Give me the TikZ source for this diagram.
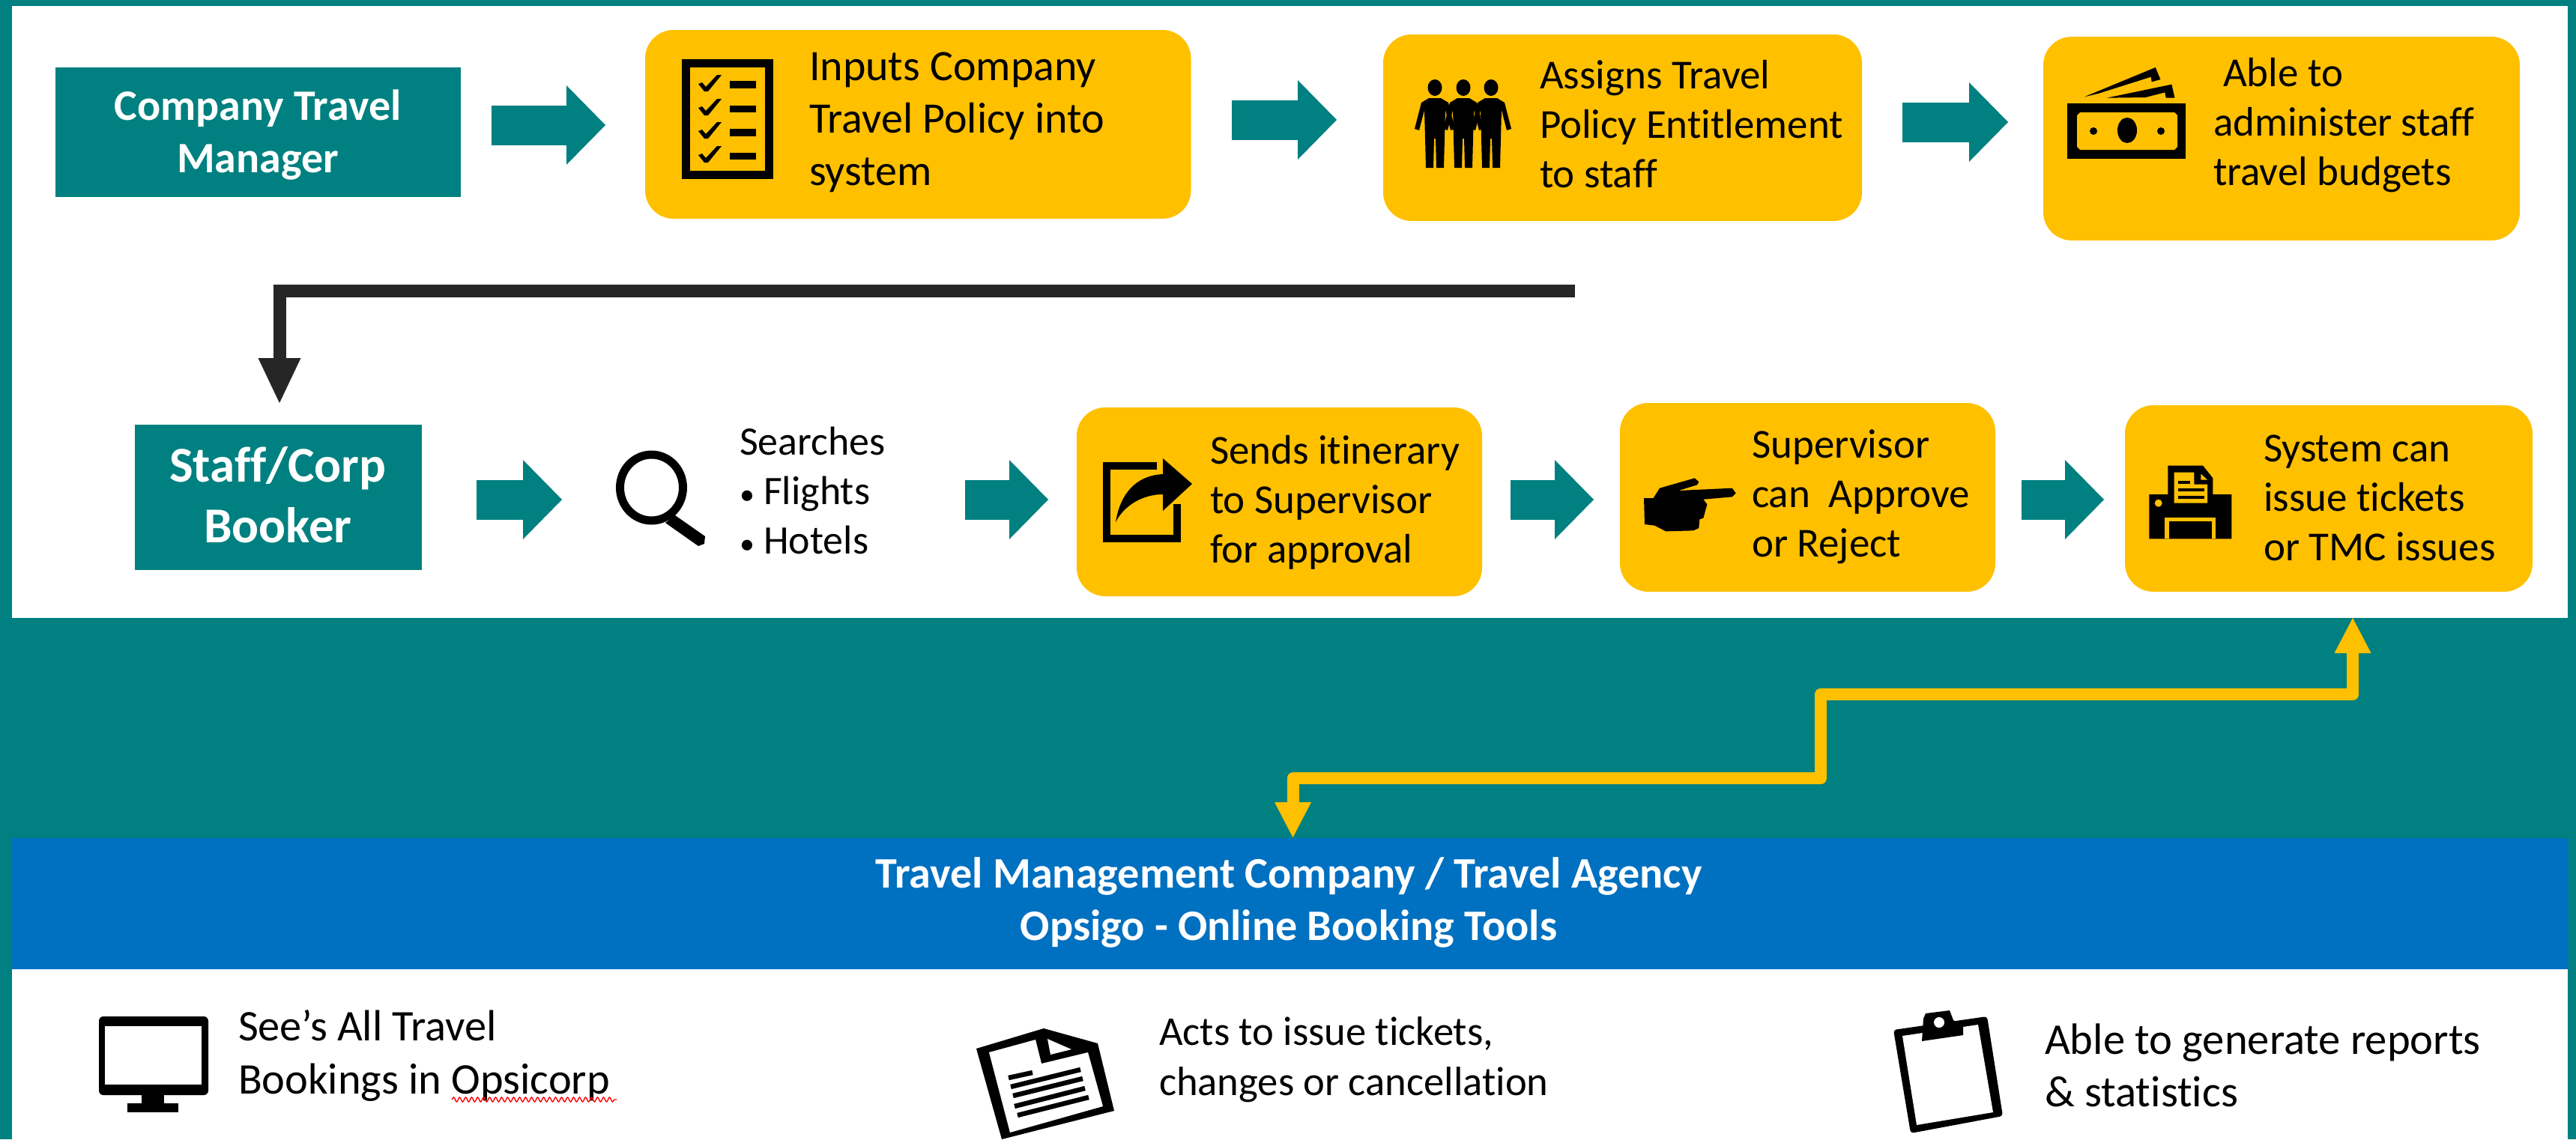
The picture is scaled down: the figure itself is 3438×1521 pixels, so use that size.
\documentclass[tikz,border=0pt]{standalone}
\usepackage{fontspec}
\setmainfont[Ligatures=NoCommon]{Carlito}
\usetikzlibrary{arrows.meta,decorations.pathmorphing}
\definecolor{tealc}{HTML}{008080}
\definecolor{goldc}{HTML}{FFC000}
\definecolor{bluec}{HTML}{0070C0}
\definecolor{darkc}{HTML}{262626}
\tikzset{
  tealbox/.style={fill=tealc,rectangle,inner sep=0pt,outer sep=0pt},
  goldbox/.style={fill=goldc,rectangle,rounded corners=19pt,inner sep=0pt,outer sep=0pt},
  lbl/.style={anchor=base west,inner sep=0pt,outer sep=0pt,align=left,text=black},
  headlbl/.style={anchor=base,inner sep=0pt,outer sep=0pt,align=center,text=white},
  flow/.style={draw=tealc,line width=26.5pt,-{Triangle[length=26pt,width=53pt,line width=0pt,fill=tealc]}},
  darkflow/.style={draw=darkc,line width=8.5pt,line join=miter,-{Triangle[length=30pt,width=28.5pt,line width=0pt,fill=darkc]}},
  goldflow/.style={draw=goldc,line width=8pt,line join=round,{Triangle[length=23.5pt,width=24.5pt,line width=0pt,fill=goldc]}-{Triangle[length=23.5pt,width=24.5pt,line width=0pt,fill=goldc]}},
  ink/.style={fill=black,draw=none},
  inkline/.style={draw=black,fill=none},
}
\newcommand{\pxbox}[6]{\node[#2,minimum width={(#5-#3)*0.5pt},minimum height={(#6-#4)*0.5pt}] (#1) at ({(#3+#5)/2},{(#4+#6)/2}) {};}
\newcommand{\tick}[1]{\fill[ink,shift={(0,#1)}] (932,112)--(937,110)--(942,116)--(957,100)--(963,100)--(945,122)--(940,122)--cycle;}
\newcommand{\person}[1]{%
  \fill[ink] (#1,117) ellipse [x radius=9.5,y radius=11];
  \fill[ink,shift={(#1,0)}] (-8,131)--(8,131)--(18,137)--(27,172)--(21,174)--(14,147)--(13,185)--(12,224)--(2,224)--(1,185)--(-1,185)--(-2,224)--(-12,224)--(-13,185)--(-14,147)--(-21,174)--(-27,172)--(-18,137)--cycle;}
\newcommand{\smallbullet}{{\fontsize{20}{33}\selectfont •}}
\begin{document}
\begin{tikzpicture}[x=0.5pt,y=-0.5pt]
\path[use as bounding box,fill=tealc] (0,0) rectangle (3438,1521);
\fill[white] (16,8) rectangle (3427,825);
\fill[white] (16,1294) rectangle (3427,1521);
\pxbox{tmc}{fill=bluec,rectangle,inner sep=0pt}{16}{1119}{3428}{1294}

% row 1 boxes
\pxbox{mgr}{tealbox}{73.5}{90}{615}{263}
\pxbox{b1}{goldbox}{861}{40}{1589.5}{292}
\pxbox{b2}{goldbox}{1846}{46}{2485}{295}
\pxbox{b3}{goldbox}{2727}{49}{3363}{321}
% row 2 boxes
\pxbox{staff}{tealbox}{180}{567}{563}{761}
\pxbox{s1}{goldbox}{1437}{544}{1978}{796}
\pxbox{s2}{goldbox}{2162}{538}{2663}{790}
\pxbox{s3}{goldbox}{2836}{541}{3380}{790}

% block arrows
\coordinate (a1s) at (656,167);  \coordinate (a1e) at (808,167);
\coordinate (a2s) at (1644,160); \coordinate (a2e) at (1784,160);
\coordinate (a3s) at (2539,163); \coordinate (a3e) at (2680,163);
\coordinate (c1s) at (636,667);  \coordinate (c1e) at (750,667);
\coordinate (c2s) at (1288,667); \coordinate (c2e) at (1399,667);
\coordinate (c3s) at (2016,667); \coordinate (c3e) at (2127,667);
\coordinate (c4s) at (2698,667); \coordinate (c4e) at (2808,667);
\draw[flow] (a1s) -- (a1e);
\draw[flow] (a2s) -- (a2e);
\draw[flow] (a3s) -- (a3e);
\draw[flow] (c1s) -- (c1e);
\draw[flow] (c2s) -- (c2e);
\draw[flow] (c3s) -- (c3e);
\draw[flow] (c4s) -- (c4e);

% long connectors
\coordinate (ds) at (2102,388); \coordinate (de) at (373,538);
\draw[darkflow] (ds) -| (de);
\coordinate (gt) at (3140,825); \coordinate (gb) at (1725.5,1118);
\draw[goldflow] (gt) -- (3140,927) -- (2430,927) -- (2430,1039) -- (1725.5,1039) -- (gb);

% texts (the given point is the baseline of the last line)
\node[headlbl,font=\bfseries\fontsize{29}{35}\selectfont] (tmgr) at (344,230) {Company Travel\\Manager};
\node[headlbl,font=\bfseries\fontsize{33.5}{40.5}\selectfont] (tstaff) at (371,724) {Staff/Corp\\Booker};
\node[lbl,font=\fontsize{29}{35}\selectfont] (t1) at (1080,247) {Inputs Company\\Travel Policy into\\system};
\node[lbl,font=\fontsize{27.5}{33}\selectfont] (t2) at (2055,250) {Assigns Travel\\Policy Entitlement\\to staff};
\node[lbl,font=\fontsize{27.5}{33}\selectfont] (t3) at (2954,247) {\hspace*{6.5pt}Able to\\administer staff\\travel budgets};
\node[lbl,font=\fontsize{27}{33}\selectfont] (t4) at (987,739) {Searches\\\smallbullet{} Flights\\\smallbullet{} Hotels};
\node[lbl,font=\fontsize{27.5}{33}\selectfont] (t5) at (1615,751) {Sends itinerary\\to Supervisor\\for approval};
\node[lbl,font=\fontsize{27.5}{33}\selectfont] (t6) at (2338,743) {Supervisor\\can\ \ Approve\\or Reject};
\node[lbl,font=\fontsize{27.5}{33}\selectfont] (t7) at (3021,748) {System can\\issue tickets\\or TMC issues};
\node[headlbl,font=\bfseries\fontsize{29.1}{35}\selectfont] (ttmc) at (1720,1255) {Travel Management Company / Travel Agency\\Opsigo - Online Booking Tools};
\node[lbl,font=\fontsize{29.2}{35.5}\selectfont] (t8) at (318,1460) {See’s All Travel\\Bookings in Opsicorp};
\node[lbl,font=\fontsize{27.3}{33.5}\selectfont] (t9) at (1547,1462) {Acts to issue tickets,\\changes or cancellation};
\node[lbl,font=\fontsize{29.3}{35}\selectfont] (t10) at (2729,1477) {Able to generate reports\\\& statistics};
\draw[red,line width=0.7pt,decorate,decoration={snake,segment length=4pt,amplitude=1.5pt}] (603,1468) -- (823,1468);

% icon: checklist
\draw[inkline,line width=5.5pt] (915.5,84) rectangle (1026.5,233);
\tick{0}\tick{32}\tick{63}\tick{95}
\fill[ink] (974,108) rectangle (1009,118);
\fill[ink] (974,141) rectangle (1009,150);
\fill[ink] (974,172) rectangle (1009,182);
\fill[ink] (974,204) rectangle (1009,213);

% icon: people
\person{1915}\person{1953}\person{1990}

% icon: money
\fill[ink] (2759,138) rectangle (2917,212);
\fill[goldc] (2776,150)--(2902,150)--(2906,154)--(2906,196)--(2902,200)--(2776,200)--(2772,196)--(2772,154)--cycle;
\fill[ink] (2839,174) ellipse [x radius=13,y radius=17];
\fill[ink] (2794,175) circle [radius=5];
\fill[ink] (2884,175) circle [radius=5];
\begin{scope}[shift={(2740,80)},x=0.1667pt,y=-0.1667pt]
\fill[ink] (125,148)--(410,30)--(430,78)--(395,88)--(392,68)--(180,135)--cycle;
\fill[ink] (215,152)--(475,98)--(487,152)--(452,152)--(448,130)--(370,150)--cycle;
\end{scope}

% icon: magnifier
\draw[inkline,line width=5.5pt] (869.5,651) ellipse [x radius=42,y radius=44];
\fill[ink] (888,698)--(901,688)--(941,716)--(940,726)--(932,729)--cycle;

% icon: share
\draw[inkline,line width=5pt] (1544,622)--(1477,622)--(1477,719)--(1571,719)--(1571,673);
\fill[ink] (1552,612)--(1591,646)--(1552,682)--(1552,660) .. controls (1525,660) and (1500,675) .. (1489,697) .. controls (1495,660) and (1515,635) .. (1552,633) -- cycle;

% icon: hand
\begin{scope}[shift={(2180,610)},x=0.1667pt,y=-0.1667pt]
\fill[ink] (42,165)--(80,165)--(105,125)--(245,85)--(262,100)--(255,112)--(180,135)--(395,125)--(410,145)--(395,160)--(280,170)--(295,190)--(280,245)--(265,250)--(262,285)--(240,295)--(130,298)--(85,275)--(45,270)--cycle;
\end{scope}

% icon: printer
\begin{scope}[shift={(2860,610)},x=0.1667pt,y=-0.1667pt]
\fill[ink] (25,150)--(100,150)--(100,35)--(240,35)--(280,85)--(280,150)--(355,150)--(355,328)--(25,328)--cycle;
\fill[goldc] (125,62)--(205,62)--(205,110)--(258,110)--(258,185)--(125,185)--cycle;
\fill[goldc] (232,68)--(258,92)--(232,92)--cycle;
\fill[ink] (142,97) rectangle (188,107);
\fill[ink] (142,127) rectangle (245,137);
\fill[ink] (142,155) rectangle (245,167);
\fill[goldc] (62,185) circle [radius=15];
\fill[goldc] (88,243) rectangle (290,328);
\fill[ink] (105,258) rectangle (275,328);
\end{scope}

% icon: monitor
\fill[ink,rounded corners=3pt] (132,1357) rectangle (278,1462);
\fill[white] (140,1370) rectangle (269,1448);
\fill[ink] (189,1462) rectangle (219,1475);
\fill[ink] (170,1473) rectangle (238,1485);

% icon: document
\fill[ink] (1393,1373)--(1465,1393)--(1487,1483)--(1337,1521)--(1303,1400)--cycle;
\fill[white] (1320,1405)--(1382,1388)--(1390,1420)--(1452,1405)--(1472,1477)--(1348,1512)--cycle;
\fill[white] (1398,1387)--(1430,1401)--(1402,1408)--cycle;
\draw[inkline,line width=3.2pt] (1346,1439)--(1378,1432);
\draw[inkline,line width=3.2pt] (1349,1451)--(1442,1428);
\draw[inkline,line width=3.2pt] (1352,1463)--(1445,1440);
\draw[inkline,line width=3.2pt] (1354,1477)--(1448,1453);
\draw[inkline,line width=3.2pt] (1358,1489)--(1453,1465);

% icon: clipboard
\fill[ink,rounded corners=2pt] (2527,1375)--(2652,1357)--(2673,1490)--(2550,1513)--cycle;
\fill[white] (2539,1383)--(2640,1368)--(2660,1485)--(2558,1502)--cycle;
\fill[ink] (2567,1360)--(2570,1353)--(2602,1349)--(2607,1362)--(2620,1370)--(2620,1382)--(2565,1390)--cycle;
\fill[white] (2588,1365) circle [radius=7];
\end{tikzpicture}
\end{document}
